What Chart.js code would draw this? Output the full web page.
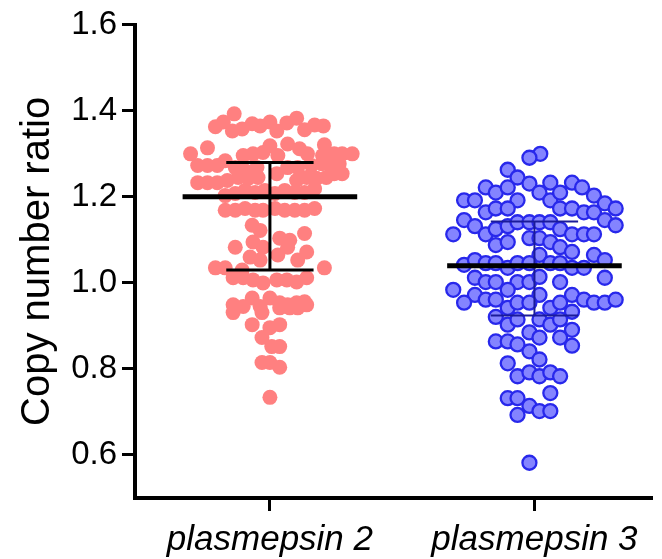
<!DOCTYPE html>
<html>
<head>
<meta charset="utf-8">
<script src="https://cdn.jsdelivr.net/npm/chart.js@4"></script>
<style>
  body { margin: 0; background: #fff; }
  #wrap { width: 662px; height: 559px; }
</style>
</head>
<body>
<div id="wrap"><canvas id="myChart"></canvas></div>
<script>
const categories = ['plasmepsin 2', 'plasmepsin 3'];
const yTicks = [0.6, 0.8, 1.0, 1.2, 1.4, 1.6];

// plasmepsin 2 copy number ratios and their horizontal spread
const pm2Values = [
  1.393, 1.374, 1.363, 1.353, 1.358, 1.370, 1.365, 1.374, 1.353, 1.372, 1.383, 1.356, 1.367, 1.365,
  1.300, 1.314, 1.319, 1.323, 1.312, 1.300, 1.321, 1.296, 1.300, 1.300, 1.300, 1.296, 1.300, 1.303, 1.296,
  1.273, 1.273, 1.273, 1.284, 1.268, 1.261, 1.268, 1.268, 1.268, 1.273, 1.277, 1.275, 1.277,
  1.233, 1.233, 1.233, 1.238, 1.245, 1.243, 1.245, 1.254, 1.238, 1.245, 1.243, 1.245, 1.254, 1.254,
  1.203, 1.208, 1.215, 1.210, 1.215, 1.208, 1.215, 1.210, 1.210, 1.219,
  1.169, 1.169, 1.173, 1.169, 1.169, 1.173, 1.169, 1.169, 1.169, 1.173,
  1.134, 1.122, 1.104, 1.099, 1.115, 1.083, 1.095, 1.083, 1.065, 1.083, 1.072, 1.060, 1.053, 1.053, 1.035, 1.035, 1.035, 1.030,
  1.012, 1.012, 1.007, 1.000, 1.007, 1.007, 1.002, 1.012,
  0.965, 0.965, 0.954, 0.956, 0.949, 0.945, 0.945, 0.949, 0.954, 0.931, 0.931, 0.942, 0.942, 0.942, 0.949,
  0.903, 0.896, 0.903, 0.873, 0.852, 0.852, 0.815, 0.815, 0.804, 0.734
];
const pm2Jitter = [
  -0.135, -0.176, -0.206, -0.142, -0.105, -0.067, -0.037, 0, 0.026, 0.064, 0.101, 0.131, 0.169, 0.202,
  -0.300, -0.236, 0, 0.067, 0.112, 0.142, 0.206, 0.199, 0.243, 0.273, 0.311, -0.101, -0.064, -0.026, 0.030,
  -0.273, -0.236, -0.199, -0.169, -0.131, -0.094, -0.049, 0.067, 0.105, 0.157, 0.195, 0.225, 0.262,
  -0.273, -0.236, -0.199, -0.161, -0.120, -0.082, -0.045, 0.026, 0.101, 0.139, 0.176, 0.213, 0.243, 0.273,
  -0.169, -0.131, -0.094, -0.056, -0.019, 0.019, 0.056, 0.094, 0.131, 0.169,
  -0.169, -0.131, -0.094, -0.056, -0.026, 0.019, 0.056, 0.094, 0.131, 0.169,
  -0.067, -0.037, 0.037, 0.075, 0.131, -0.131, -0.064, -0.026, 0.030, 0.067, 0.139, -0.075, -0.037, 0.105, -0.206, -0.169, 0.206, -0.105,
  -0.139, -0.101, -0.064, -0.026, 0.026, 0.064, 0.101, 0.139,
  -0.067, 0, 0.037, 0.131, -0.139, -0.101, -0.037, 0.067, 0.101, -0.139, -0.030, 0.037, 0.075, 0.105, 0.139,
  -0.067, 0, 0.037, -0.030, 0.007, 0.037, -0.030, 0, 0.037, 0
];

// plasmepsin 3
const pm3Values = [
  1.300, 1.291, 1.263, 1.245, 1.231, 1.233, 1.233, 1.222, 1.203, 1.185, 1.173,
  1.222, 1.210, 1.222, 1.192, 1.210, 1.192, 1.210,
  1.192, 1.192, 1.164, 1.173, 1.173, 1.173, 1.173, 1.164, 1.164,
  1.146, 1.132, 1.146, 1.134,
  1.113, 1.113, 1.125, 1.132, 1.141, 1.141, 1.141, 1.141, 1.125, 1.113, 1.113, 1.113,
  1.104, 1.104, 1.095, 1.088, 1.095,
  1.083, 1.072, 1.065, 1.065, 1.053,
  1.042, 1.053, 1.046, 1.046, 1.035, 1.046, 1.046, 1.046, 1.046, 1.035, 1.035,
  1.012, 1.002, 1.002, 1.002, 1.002, 1.014, 1.002, 1.012,
  0.984, 0.984, 0.972, 0.961, 0.961, 0.972, 0.972, 0.961, 0.954, 0.954, 0.961, 0.954,
  0.942, 0.954, 0.954, 0.942, 0.954, 0.933,
  0.921, 0.903, 0.915, 0.915, 0.903, 0.915, 0.891, 0.885, 0.873,
  0.864, 0.864, 0.857, 0.873, 0.854, 0.841, 0.822,
  0.813, 0.783, 0.792, 0.783, 0.792, 0.783,
  0.744, 0.732, 0.732, 0.714, 0.702, 0.702, 0.693, 0.582
];
const pm3Jitter = [
  0.022, -0.019, -0.101, -0.064, -0.019, 0.060, 0.142, 0.180, 0.225, 0.266, 0.307,
  -0.184, -0.146, -0.101, -0.064, 0.019, 0.060, 0.097,
  -0.266, -0.225, -0.184, -0.146, -0.101, 0.097, 0.142, 0.187, 0.225,
  -0.266, -0.225, 0.266, 0.307,
  -0.307, -0.184, -0.146, -0.101, -0.064, -0.019, 0.019, 0.060, 0.097, 0.142, 0.187, 0.225,
  -0.019, 0.019, 0.060, -0.146, -0.101,
  0.097, 0.142, 0.019, 0.225, 0.266,
  -0.266, -0.225, -0.184, -0.146, -0.101, -0.064, -0.019, 0.060, 0.097, 0.142, 0.187,
  -0.225, -0.184, -0.146, -0.064, -0.019, 0.019, 0.097, 0.266,
  -0.307, -0.101, -0.225, -0.184, -0.146, 0.019, 0.142, 0.187, 0.225, 0.266, 0.307, -0.266,
  -0.101, -0.064, -0.019, 0.060, 0.097, 0.142,
  -0.146, -0.101, -0.064, 0.019, 0.060, 0.097, 0.142, -0.019, 0.019,
  -0.146, -0.101, -0.064, 0.097, 0.142, -0.019, 0.019,
  -0.101, -0.064, -0.019, 0.019, 0.060, 0.097,
  0.060, -0.101, -0.064, -0.019, 0.019, 0.060, -0.064, -0.019
];

// centre line and error bar ends for each group
const centerLines = [1.20, 1.04];
const barLow = [1.03, 0.924];
const barHigh = [1.28, 1.143];

const FONT = "'Liberation Sans', Arial, sans-serif";

function toPoints(values, jitter, pos) {
  return values.map((v, i) => ({ x: pos + jitter[i], y: v }));
}

// mean line + error bar, drawn over the dots
const summaryBars = {
  id: 'summaryBars',
  afterDatasetsDraw(chart) {
    const { ctx, scales: { x, y } } = chart;
    ctx.save();
    ctx.lineCap = 'butt';
    centerLines.forEach((c, i) => {
      const pos = i + 1;
      ctx.strokeStyle = i === 0 ? '#000' : '#1b1b9a';
      ctx.lineWidth = i === 0 ? 3 : 2;
      ctx.beginPath();
      ctx.moveTo(x.getPixelForValue(pos), y.getPixelForValue(barLow[i]));
      ctx.lineTo(x.getPixelForValue(pos), y.getPixelForValue(barHigh[i]));
      [barLow[i], barHigh[i]].forEach(v => {
        ctx.moveTo(x.getPixelForValue(pos - 0.165), y.getPixelForValue(v));
        ctx.lineTo(x.getPixelForValue(pos + 0.165), y.getPixelForValue(v));
      });
      ctx.stroke();

      ctx.strokeStyle = '#000';
      ctx.lineWidth = 5;
      ctx.beginPath();
      ctx.moveTo(x.getPixelForValue(pos - 0.33), y.getPixelForValue(c));
      ctx.lineTo(x.getPixelForValue(pos + 0.33), y.getPixelForValue(c));
      ctx.stroke();
    });
    ctx.restore();
  }
};

new Chart(document.getElementById('myChart').getContext('2d'), {
  type: 'scatter',
  data: {
    datasets: [
      {
        label: categories[0],
        data: toPoints(pm2Values, pm2Jitter, 1),
        backgroundColor: 'rgb(255,128,128)',
        borderWidth: 0,
        pointRadius: 7.5
      },
      {
        label: categories[1],
        data: toPoints(pm3Values, pm3Jitter, 2),
        backgroundColor: 'rgb(132,132,255)',
        borderColor: 'rgb(40,40,235)',
        borderWidth: 2.3,
        pointRadius: 7
      }
    ]
  },
  options: {
    responsive: true,
    maintainAspectRatio: false,
    animation: false,
    layout: { padding: { top: 22, right: 0, left: 0, bottom: 0 } },
    plugins: {
      legend: { display: false },
      tooltip: { enabled: false }
    },
    scales: {
      x: {
        type: 'linear',
        min: 0.49,
        max: 2.447,
        afterBuildTicks: s => { s.ticks = [{ value: 1 }, { value: 2 }]; },
        afterFit: s => {
          s.height = 61;
          s.paddingLeft = 0;
          s.paddingRight = 0;
        },
        ticks: {
          callback: v => categories[v - 1],
          color: '#000',
          padding: 8,
          maxRotation: 0,
          font: { family: FONT, size: 35, style: 'italic' }
        },
        grid: { drawOnChartArea: false, tickLength: 13, tickWidth: 3, color: '#000' },
        border: { width: 4, color: '#000' }
      },
      y: {
        min: 0.5,
        max: 1.6,
        afterBuildTicks: s => { s.ticks = yTicks.map(v => ({ value: v })); },
        afterFit: s => { s.width = 135; },
        ticks: {
          callback: v => v.toFixed(1),
          color: '#000',
          padding: 5,
          font: { family: FONT, size: 33 }
        },
        grid: { drawOnChartArea: false, tickLength: 13, tickWidth: 3, color: '#000' },
        border: { width: 4, color: '#000' },
        title: {
          display: true,
          text: 'Copy number ratio',
          color: '#000',
          padding: { top: 14, bottom: 0 },
          font: { family: FONT, size: 40 }
        }
      }
    }
  },
  plugins: [summaryBars]
});
</script>
</body>
</html>
